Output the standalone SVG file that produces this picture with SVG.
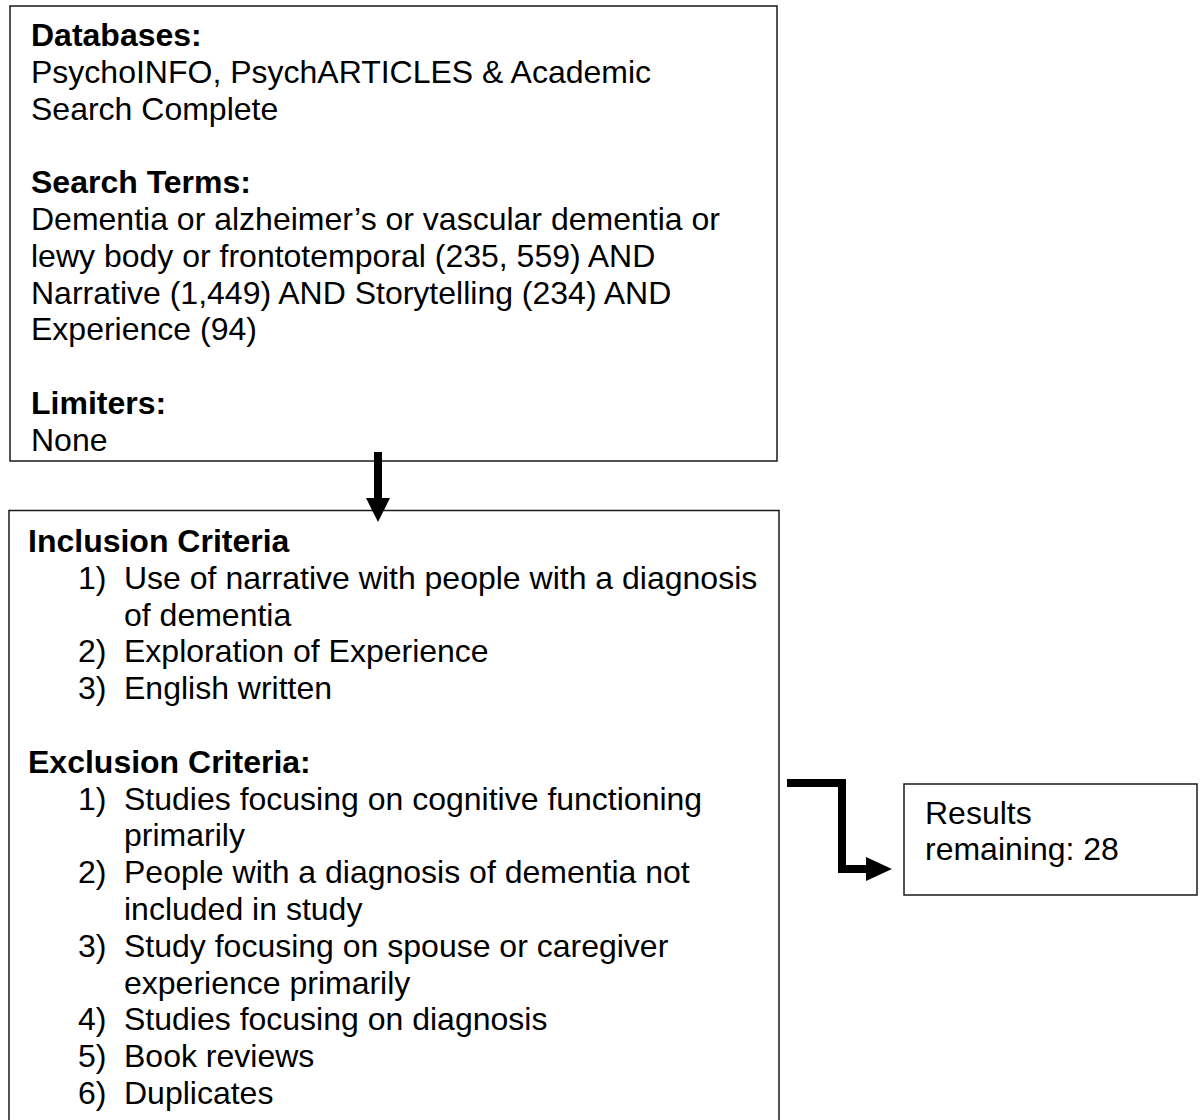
<svg xmlns="http://www.w3.org/2000/svg" width="1202" height="1120" viewBox="0 0 1202 1120">
<style>
.box{fill:#fff;stroke:#1a1a1a;stroke-width:1.5}
text{font-family:"Liberation Sans",Arial,sans-serif;font-size:32px;fill:#000}
.b{font-weight:bold}
</style>
<rect width="1202" height="1120" fill="#fff"/>
<g id="search-box">
<rect class="box" x="10" y="6" width="767" height="455"/>
<text x="31" y="46" class="b">Databases:</text>
<text x="31" y="82.8">PsychoINFO, PsychARTICLES &amp; Academic</text>
<text x="31" y="119.6">Search Complete</text>
<text x="31" y="193.2" class="b">Search Terms:</text>
<text x="31" y="230">Dementia or alzheimer’s or vascular dementia or</text>
<text x="31" y="266.8">lewy body or frontotemporal (235, 559) AND</text>
<text x="31" y="303.6">Narrative (1,449) AND Storytelling (234) AND</text>
<text x="31" y="340.4">Experience (94)</text>
<text x="31" y="414" class="b">Limiters:</text>
<text x="31" y="450.8">None</text>
</g>
<g id="criteria-box">
<rect class="box" x="9" y="510.5" width="770" height="640"/>
<text x="28" y="552" class="b">Inclusion Criteria</text>
<text x="78" y="588.8">1)</text><text x="124" y="588.8">Use of narrative with people with a diagnosis</text>
<text x="124" y="625.6">of dementia</text>
<text x="78" y="662.4">2)</text><text x="124" y="662.4">Exploration of Experience</text>
<text x="78" y="699.2">3)</text><text x="124" y="699.2">English written</text>
<text x="28" y="772.8" class="b">Exclusion Criteria:</text>
<text x="78" y="809.6">1)</text><text x="124" y="809.6">Studies focusing on cognitive functioning</text>
<text x="124" y="846.4">primarily</text>
<text x="78" y="883.2">2)</text><text x="124" y="883.2">People with a diagnosis of dementia not</text>
<text x="124" y="920">included in study</text>
<text x="78" y="956.8">3)</text><text x="124" y="956.8">Study focusing on spouse or caregiver</text>
<text x="124" y="993.6">experience primarily</text>
<text x="78" y="1030.4">4)</text><text x="124" y="1030.4">Studies focusing on diagnosis</text>
<text x="78" y="1067.2">5)</text><text x="124" y="1067.2">Book reviews</text>
<text x="78" y="1104">6)</text><text x="124" y="1104">Duplicates</text>
</g>
<g id="results-box">
<rect class="box" x="904" y="784" width="293" height="111"/>
<text x="925" y="823.5">Results</text>
<text x="925" y="860.3">remaining: 28</text>
</g>
<g id="connectors">
<line x1="378" y1="452" x2="378" y2="499" stroke="#000" stroke-width="8"/>
<polygon points="366,498 390,498 378,522" fill="#000"/>
<polyline points="787,783 842,783 842,869 867,869" fill="none" stroke="#000" stroke-width="8" stroke-linejoin="miter"/>
<polygon points="866,857 892,869 866,881" fill="#000"/>
</g>
</svg>
